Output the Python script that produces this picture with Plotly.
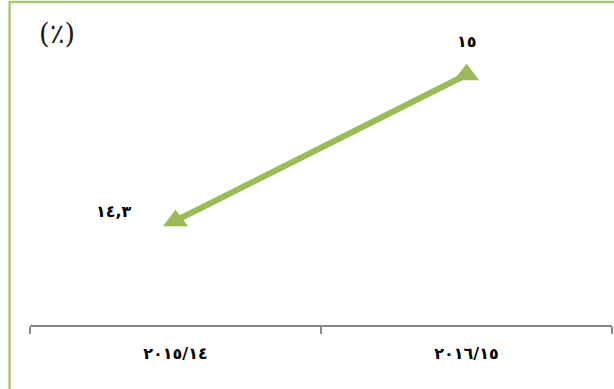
import plotly.graph_objects as go

# Data
periods = ["٢٠١٥/١٤", "٢٠١٦/١٥"]
values = [14.3, 15.0]
value_labels = ["١٤,٣", "١٥"]
unit_label = "(٪)"

green = "#9bbb59"
positions = list(range(len(periods)))
boundaries = [p - 0.5 for p in positions] + [positions[-1] + 0.5]

fig = go.Figure()
fig.add_trace(go.Scatter(
    x=positions,
    y=values,
    mode="lines+markers",
    line=dict(color=green, width=6),
    marker=dict(symbol="triangle-up", size=22, color=green),
    cliponaxis=False,
    showlegend=False,
))

# value labels: first to the left of its point, second above it
label_style = [
    dict(xanchor="right", yanchor="middle", xshift=-42, yshift=9),
    dict(xanchor="center", yanchor="bottom", xshift=0, yshift=22),
]
annotations = []
for xp, yv, txt, st in zip(positions, values, value_labels, label_style):
    annotations.append(dict(
        x=xp, y=yv, xref="x", yref="y", text="<b>%s</b>" % txt,
        showarrow=False,
        font=dict(family="DejaVu Sans", size=16, color="#000000"),
        **st,
    ))

annotations.append(dict(
    text=unit_label, xref="paper", yref="paper",
    x=0.012, y=1.0, xanchor="left", yanchor="middle",
    showarrow=False,
    font=dict(family="DejaVu Serif", size=27, color="#1a1a1a"),
))

fig.update_layout(
    width=614,
    height=389,
    margin=dict(l=30, r=2, t=33, b=64),
    paper_bgcolor="white",
    plot_bgcolor="white",
    xaxis=dict(
        range=[boundaries[0], boundaries[-1]],
        tickmode="array",
        tickvals=positions,
        ticktext=["<b>%s</b>" % p for p in periods],
        ticks="",
        ticklabelstandoff=13,
        minor=dict(tickmode="array", tickvals=boundaries, ticks="outside",
                   ticklen=7, tickwidth=1.5, tickcolor="#888888", showgrid=False),
        showline=True,
        linecolor="#888888",
        linewidth=1.5,
        showgrid=False,
        zeroline=False,
        tickfont=dict(family="DejaVu Sans", size=16, color="#000000"),
        fixedrange=True,
    ),
    yaxis=dict(
        range=[13.8, 15.2],
        visible=False,
        showgrid=False,
        zeroline=False,
        fixedrange=True,
    ),
    shapes=[
        # outer chart frame (right and bottom edges fall outside the canvas)
        dict(type="rect", xref="paper", yref="paper",
             x0=-0.035, x1=1.02, y0=-0.3, y1=1.106,
             line=dict(color="#a9c97a", width=2.5), fillcolor="rgba(0,0,0,0)",
             layer="below"),
    ],
    annotations=annotations,
)

fig.write_html("out.html")
